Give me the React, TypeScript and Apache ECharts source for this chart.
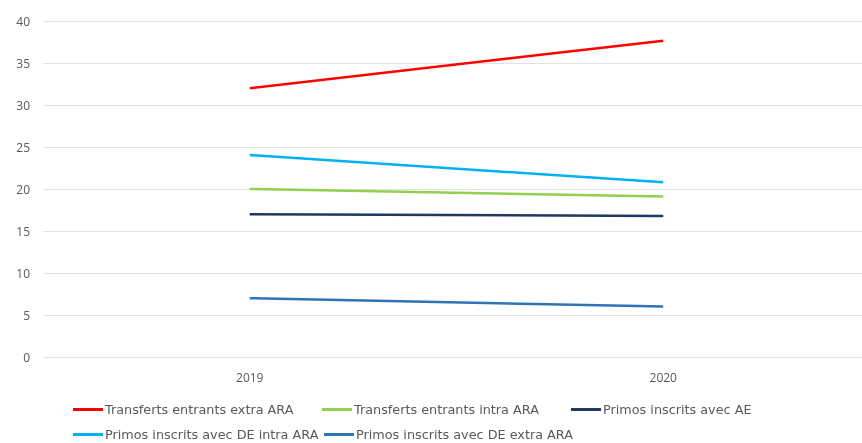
import React, { useEffect, useRef } from "react";
import * as echarts from "echarts";

const categories = ["2019", "2020"];
const seriesNames = [
  "Transferts entrants extra ARA",
  "Transferts entrants intra ARA",
  "Primos inscrits avec AE",
  "Primos inscrits avec DE intra ARA",
  "Primos inscrits avec DE extra ARA",
];
const seriesColors = ["#FF0000", "#92D050", "#1F3864", "#00B0F0", "#2E75B6"];
const transfertsExtra = [32.0, 37.65];
const transfertsIntra = [20.0, 19.1];
const primosAE = [17.0, 16.8];
const primosDEIntra = [24.05, 20.8];
const primosDEExtra = [7.0, 6.0];
const seriesValues = [transfertsExtra, transfertsIntra, primosAE, primosDEIntra, primosDEExtra];
const yTicks = [0, 40, 5];

const legendPos = [
  { left: 73, top: 403 },
  { left: 322, top: 403 },
  { left: 571, top: 403 },
  { left: 73, top: 428 },
  { left: 324, top: 428 },
];

export default function App() {
  const ref = useRef<HTMLDivElement>(null);
  useEffect(() => {
    if (!ref.current) return;
    const chart = echarts.init(ref.current, undefined, { renderer: "svg" });
    const font = "'Open Sans', sans-serif";
    const legendFont = "'DejaVu Sans', sans-serif";
    chart.setOption({
      animation: false,
      textStyle: { fontFamily: font },
      grid: { left: 43, right: 0, top: 21, bottom: 86, containLabel: false },
      legend: seriesNames.map((n, i) => ({
        data: [n],
        left: legendPos[i].left,
        top: legendPos[i].top,
        icon: "rect",
        itemWidth: 30,
        itemHeight: 3,
        itemGap: 0,
        padding: 0,
        selectedMode: false,
        textStyle: { color: "#595959", fontSize: 12.8, fontFamily: legendFont, padding: [0, 0, 0, -3] },
      })),
      xAxis: {
        type: "category",
        data: categories,
        boundaryGap: true,
        axisLine: { show: false },
        axisTick: { show: false },
        axisLabel: { color: "#595959", fontSize: 12, margin: 14, fontFamily: font },
      },
      yAxis: {
        type: "value",
        min: yTicks[0],
        max: yTicks[1],
        interval: yTicks[2],
        axisLine: { show: false },
        axisTick: { show: false },
        axisLabel: { color: "#595959", fontSize: 12, margin: 13, fontFamily: font },
        splitLine: { lineStyle: { color: "#E3E3E3", width: 1 } },
      },
      series: seriesNames.map((n, i) => ({
        name: n,
        type: "line",
        data: seriesValues[i],
        symbol: "none",
        color: seriesColors[i],
        lineStyle: { width: 2.5, color: seriesColors[i] },
      })),
    });
    return () => chart.dispose();
  }, []);
  return (
    <div style={{ position: "fixed", left: 0, top: 0, width: 862, height: 443, overflow: "hidden" }}>
      <div ref={ref} style={{ width: 870, height: 443 }} />
    </div>
  );
}
